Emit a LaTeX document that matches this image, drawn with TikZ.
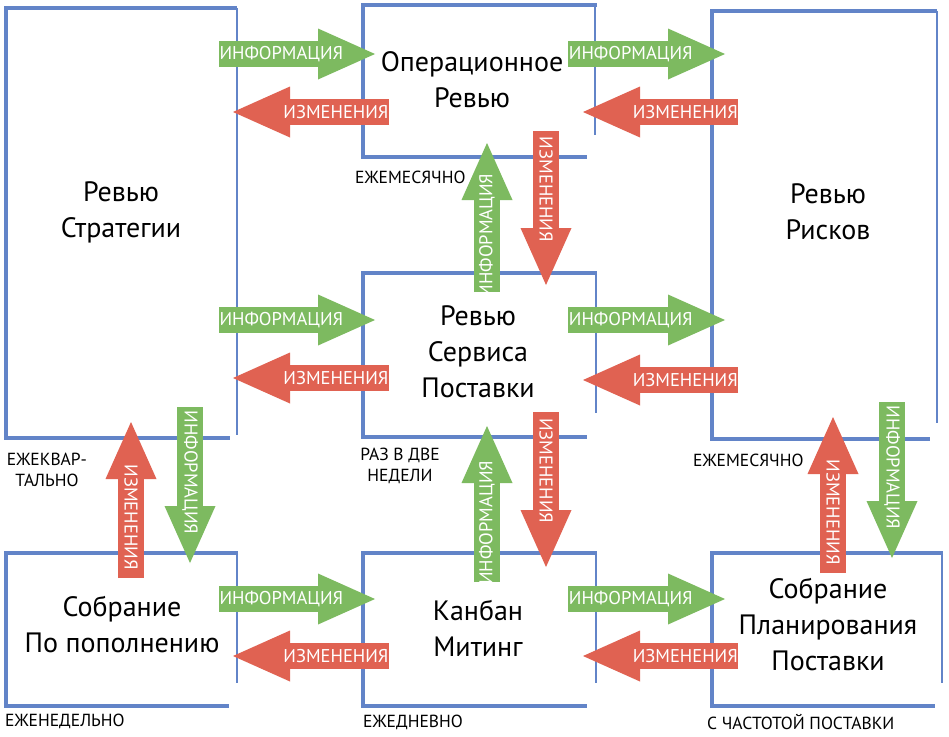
\documentclass[tikz,border=0pt]{standalone}
\usepackage{fontspec}
\setmainfont{PT Sans}
\usetikzlibrary{arrows.meta}
\usepackage{xcolor}
\definecolor{infogreen}{RGB}{125,186,96}
\definecolor{changered}{RGB}{224,98,82}
\definecolor{boxblue}{RGB}{98,132,200}

\begin{document}
\begin{tikzpicture}
[x=1pt, y=-1pt,
% The meeting style is used to write the name of each meeting
meeting/.style={align=center, inner sep=0pt, font=\fontsize{28}{36}\selectfont},
% The freq style is used to write how often the meeting takes place
freq/.style={align=center, inner sep=0pt, font=\fontsize{17.5}{21}\selectfont},
boxline/.style={boxblue, line width=4pt},
boxside/.style={boxblue, line width=2.2pt},
% The info and change styles draw the big arrows between the meetings
info/.style={infogreen, line width=26pt, -{Triangle[length=57pt, width=51pt, line width=0pt]}},
change/.style={changered, line width=26pt, -{Triangle[length=57pt, width=51pt, line width=0pt]}},
tag/.style={white, inner sep=0pt, font=\fontsize{18.5}{18.5}\selectfont}
]
\fill[white] (0,0) rectangle (949,736);
\useasboundingbox (0,0) rectangle (949,736);

% Draw boxes
\draw[boxline] (237,8) -- (6,8) -- (6,438) -- (230,438);
\draw[boxside] (237,8) -- (237,435);
\draw[boxline] (597,5) -- (363,5) -- (363,157) -- (587,157);
\draw[boxside] (595,5) -- (595,135);
\draw[boxline] (937,11) -- (712,11) -- (712,439) -- (930,439);
\draw[boxside] (937,11) -- (937,423);
\draw[boxline] (597,273) -- (363,273) -- (363,437) -- (587,437);
\draw[boxside] (596,273) -- (596,413);
\draw[boxline] (238,553) -- (6,553) -- (6,706) -- (229,706);
\draw[boxside] (237,553) -- (237,683);
\draw[boxline] (597,553) -- (363,553) -- (363,706) -- (587,706);
\draw[boxside] (596,553) -- (596,683);
\draw[boxline] (943,553) -- (712,553) -- (712,706) -- (935,706);
\draw[boxside] (942,553) -- (942,683);

% Arrow ends
\coordinate (so1) at (219,54);  \coordinate (so2) at (375,54);
\coordinate (so3) at (389,112); \coordinate (so4) at (233,112);
\coordinate (or1) at (568,54);  \coordinate (or2) at (725,54);
\coordinate (or3) at (738,112); \coordinate (or4) at (583,112);
\coordinate (ss1) at (219,320); \coordinate (ss2) at (375,320);
\coordinate (ss3) at (389,378); \coordinate (ss4) at (233,378);
\coordinate (sr1) at (568,320); \coordinate (sr2) at (725,320);
\coordinate (sr3) at (738,380); \coordinate (sr4) at (583,380);
\coordinate (pk1) at (219,599); \coordinate (pk2) at (375,599);
\coordinate (pk3) at (389,656); \coordinate (pk4) at (233,656);
\coordinate (kp1) at (568,599); \coordinate (kp2) at (725,599);
\coordinate (kp3) at (738,656); \coordinate (kp4) at (583,656);
\coordinate (os1) at (487,292); \coordinate (os2) at (487,143);
\coordinate (os3) at (546,131); \coordinate (os4) at (546,285);
\coordinate (sk1) at (487,582); \coordinate (sk2) at (487,426);
\coordinate (sk3) at (546,412); \coordinate (sk4) at (546,567);
\coordinate (sp1) at (131,578); \coordinate (sp2) at (131,422);
\coordinate (sp3) at (190,407); \coordinate (sp4) at (190,563);
\coordinate (rp1) at (833,573); \coordinate (rp2) at (833,417);
\coordinate (rp3) at (892,402); \coordinate (rp4) at (892,558);

% Draw arrows
\draw[info] (so1) -- (so2) node[tag, pos=.4] {ИНФОРМАЦИЯ};
\draw[change] (so3) -- (so4) node[tag, pos=.34] {ИЗМЕНЕНИЯ};
\draw[info] (or1) -- (or2) node[tag, pos=.4] {ИНФОРМАЦИЯ};
\draw[change] (or3) -- (or4) node[tag, pos=.34] {ИЗМЕНЕНИЯ};
\draw[info] (ss1) -- (ss2) node[tag, pos=.4] {ИНФОРМАЦИЯ};
\draw[change] (ss3) -- (ss4) node[tag, pos=.34] {ИЗМЕНЕНИЯ};
\draw[info] (sr1) -- (sr2) node[tag, pos=.4] {ИНФОРМАЦИЯ};
\draw[change] (sr3) -- (sr4) node[tag, pos=.34] {ИЗМЕНЕНИЯ};
\draw[info] (pk1) -- (pk2) node[tag, pos=.4] {ИНФОРМАЦИЯ};
\draw[change] (pk3) -- (pk4) node[tag, pos=.34] {ИЗМЕНЕНИЯ};
\draw[info] (kp1) -- (kp2) node[tag, pos=.4] {ИНФОРМАЦИЯ};
\draw[change] (kp3) -- (kp4) node[tag, pos=.34] {ИЗМЕНЕНИЯ};
\draw[info] (os1) -- (os2) node[tag, pos=.38, rotate=90] {ИНФОРМАЦИЯ};
\draw[change] (os3) -- (os4) node[tag, pos=.38, rotate=-90] {ИЗМЕНЕНИЯ};
\draw[info] (sk1) -- (sk2) node[tag, pos=.38, rotate=90] {ИНФОРМАЦИЯ};
\draw[change] (sk3) -- (sk4) node[tag, pos=.38, rotate=-90] {ИЗМЕНЕНИЯ};
\draw[change] (sp1) -- (sp2) node[tag, pos=.39, rotate=-90] {ИЗМЕНЕНИЯ};
\draw[info] (sp3) -- (sp4) node[tag, pos=.42, rotate=-90] {ИНФОРМАЦИЯ};
\draw[change] (rp1) -- (rp2) node[tag, pos=.39, rotate=-90] {ИЗМЕНЕНИЯ};
\draw[info] (rp3) -- (rp4) node[tag, pos=.42, rotate=-90] {ИНФОРМАЦИЯ};

% Draw meetings
\node[meeting] (strat) at (121,212) {Ревью\\Стратегии};
\node[meeting] (oper) at (472,80) {Операционное\\Ревью};
\node[meeting] (risk) at (828,212) {Ревью\\Рисков};
\node[meeting] (serv) at (478,352) {Ревью\\Сервиса\\Поставки};
\node[meeting] (repl) at (122,625) {Собрание\\По пополнению};
\node[meeting] (kanban) at (478,628) {Канбан\\Митинг};
\node[meeting] (plan) at (828,625) {Собрание\\Планирования\\Поставки};

% Draw frequencies
\node[freq, anchor=west] (f-oper) at (355,177) {ЕЖЕМЕСЯЧНО};
\node[freq] (f-strat) at (47,470) {ЕЖЕКВАР-\\ТАЛЬНО};
\node[freq] (f-serv) at (400,466) {РАЗ В ДВЕ\\НЕДЕЛИ};
\node[freq, anchor=west] (f-risk) at (693,460) {ЕЖЕМЕСЯЧНО};
\node[freq, anchor=west] (f-repl) at (5,721) {ЕЖЕНЕДЕЛЬНО};
\node[freq, anchor=west] (f-kanban) at (363,722) {ЕЖЕДНЕВНО};
\node[freq, anchor=west] (f-plan) at (707,722) {С ЧАСТОТОЙ ПОСТАВКИ};
\end{tikzpicture}
\end{document}
